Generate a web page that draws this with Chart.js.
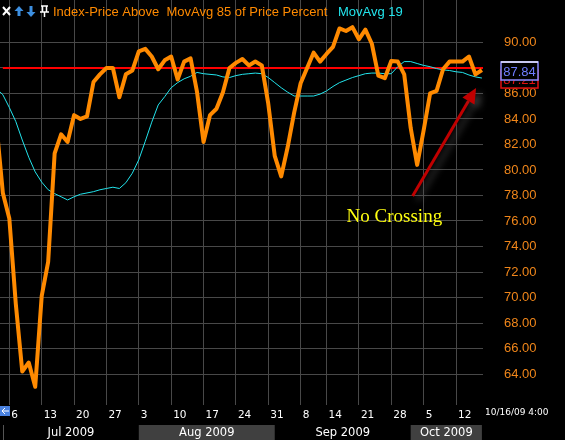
<!DOCTYPE html>
<html>
<head>
<meta charset="utf-8">
<script src="https://cdn.jsdelivr.net/npm/chart.js@4/dist/chart.umd.min.js"></script>
<style>
  html, body { margin: 0; padding: 0; background: #000; }
  canvas { display: block; }
</style>
</head>
<body>
<canvas id="chart" width="565" height="440"></canvas>
<script>
// trading days, Jul 1 - Oct 16 2009
const dates = [
  '7/1', '7/2', '7/6', '7/7', '7/8', '7/9', '7/10', '7/13', '7/14', '7/15', '7/16', '7/17',
  '7/20', '7/21', '7/22', '7/23', '7/24', '7/27', '7/28', '7/29', '7/30', '7/31',
  '8/3', '8/4', '8/5', '8/6', '8/7', '8/10', '8/11', '8/12', '8/13', '8/14', '8/17', '8/18',
  '8/19', '8/20', '8/21', '8/24', '8/25', '8/26', '8/27', '8/28', '8/31',
  '9/1', '9/2', '9/3', '9/4', '9/8', '9/9', '9/10', '9/11', '9/14', '9/15', '9/16', '9/17',
  '9/18', '9/21', '9/22', '9/23', '9/24', '9/25', '9/28', '9/29', '9/30',
  '10/1', '10/2', '10/5', '10/6', '10/7', '10/8', '10/9', '10/12', '10/13', '10/14', '10/15', '10/16'
];

// Index-Price Above MovAvg 85 of Price Percent
const orangeValues = [
  83.6, 78.2, 76.2, 69.5, 64.2, 64.9, 63.0, 70.1, 72.8, 81.3, 82.8, 82.2,
  84.3, 84.0, 84.2, 86.9, 87.5, 88.0, 88.0, 85.7, 87.5, 87.8,
  89.3, 89.5, 88.9, 87.9, 88.6, 88.9, 87.1, 88.5, 88.75, 86.1, 82.2, 84.3,
  84.8, 86.1, 88.0, 88.4, 88.7, 88.2, 88.5, 88.2, 85.2,
  81.1, 79.5, 81.8, 84.5, 86.8, 88.0, 89.2, 88.5, 89.1, 89.65, 91.1, 90.9,
  91.2, 90.25, 91.0, 89.9, 87.4, 87.2, 88.55, 88.5, 87.5,
  83.3, 80.4, 83.1, 86.0, 86.2, 87.9, 88.5, 88.5, 88.5, 88.9, 87.5, 87.84
];

// MovAvg 19
const cyanValues = [
  86.4, 85.9, 84.9, 83.8, 82.35, 81.0, 79.85, 79.05, 78.45, 78.15, 77.9, 77.65,
  77.9, 78.1, 78.2, 78.3, 78.45, 78.55, 78.65, 78.55, 79.0, 79.75,
  80.8, 82.25, 83.75, 85.1, 85.75, 86.45, 86.85, 87.15, 87.35, 87.65, 87.55, 87.5,
  87.45, 87.3, 87.25, 87.4, 87.5, 87.55, 87.6, 87.55, 87.25,
  86.85, 86.45, 86.1, 85.8, 85.8, 85.8, 85.8, 85.95, 86.2, 86.55, 86.85, 87.05,
  87.25, 87.4, 87.55, 87.6, 87.6, 87.55, 87.55, 88.1, 88.5,
  88.5, 88.35, 88.2, 88.1, 87.95, 87.85, 87.8, 87.7, 87.65, 87.45, 87.3, 87.21
];

const redLevel = 88.0;
const yTicks = [64, 66, 68, 70, 72, 74, 76, 78, 80, 82, 84, 86, 88, 90];
const weekStarts = ['7/6', '7/13', '7/20', '7/27', '8/3', '8/10', '8/17', '8/24', '8/31',
  '9/8', '9/14', '9/21', '9/28', '10/5', '10/12'];
const monthNums = [7, 8, 9, 10];
const monthLabels = ['Jul 2009', 'Aug 2009', 'Sep 2009', 'Oct 2009'];

const titleMain = 'Index-Price Above  MovAvg 85 of Price Percent';
const titleAvg = 'MovAvg 19';
const noteText = 'No Crossing';
const stamp = '10/16/09 4:00';
// annotation anchors in data units (day index, value)
const notePos = { x: 52.1, y: 75.95 };
const arrowFrom = { x: 62.3, y: 77.96 };
const arrowTo = { x: 72.1, y: 86.43 };

const base = dates.indexOf('7/6');
const idx = d => dates.indexOf(d) - base;
const weekIdx = weekStarts.map(idx);
const series = vals => vals.map((v, i) => ({ x: i - base, y: v }));

function monthRange(k) {
  const first = dates.findIndex(d => d.startsWith(monthNums[k] + '/'));
  if (k + 1 < monthNums.length) {
    const next = dates.findIndex(d => d.startsWith(monthNums[k + 1] + '/'));
    return [first - base, next - base];
  }
  return [first - base, dates.length - 1 - base];
}

const ORANGE = '#ff8a00';
const CYAN = '#22e4ec';
const GRID = '#484848';

const decor = {
  id: 'decor',
  beforeDraw(chart) {
    const c = chart.ctx;
    c.save();
    c.fillStyle = '#000';
    c.fillRect(0, 0, chart.width, chart.height);
    c.restore();
  },
  afterDraw(chart) {
    const c = chart.ctx;
    const x = chart.scales.x, y = chart.scales.y;
    const area = chart.chartArea;
    c.save();

    // title
    c.font = '13px "Liberation Sans"';
    c.textBaseline = 'middle';
    c.textAlign = 'left';
    c.fillStyle = ORANGE;
    c.fillText(titleMain, 53, 12);
    c.fillStyle = CYAN;
    c.fillText(titleAvg, 338, 12);

    // toolbar icons
    c.strokeStyle = '#fff';
    c.lineWidth = 2;
    c.beginPath();
    c.moveTo(3, 7); c.lineTo(10, 15);
    c.moveTo(10, 7); c.lineTo(3, 15);
    c.stroke();
    c.fillStyle = '#3d8fe0';
    c.beginPath();
    c.moveTo(19, 6); c.lineTo(14.5, 11); c.lineTo(23.5, 11); c.closePath(); c.fill();
    c.fillRect(17.5, 11, 3, 5);
    c.beginPath();
    c.moveTo(31, 17); c.lineTo(26.5, 12); c.lineTo(35.5, 12); c.closePath(); c.fill();
    c.fillRect(29.5, 6, 3, 6);
    c.strokeStyle = '#fff';
    c.lineWidth = 1.5;
    c.beginPath();
    c.moveTo(41, 6); c.lineTo(48, 6);
    c.moveTo(42.5, 6); c.lineTo(42.5, 12); c.moveTo(46.5, 6); c.lineTo(46.5, 12);
    c.moveTo(40, 12); c.lineTo(49, 12);
    c.moveTo(44.5, 12); c.lineTo(44.5, 17);
    c.stroke();

    // arrow with soft shadow
    const ax0 = x.getPixelForValue(arrowFrom.x), ay0 = y.getPixelForValue(arrowFrom.y);
    const ax1 = x.getPixelForValue(arrowTo.x), ay1 = y.getPixelForValue(arrowTo.y);
    const len = Math.hypot(ax1 - ax0, ay1 - ay0);
    const ux = (ax1 - ax0) / len, uy = (ay1 - ay0) / len;
    const hx = ax1 - ux * 15, hy = ay1 - uy * 15;
    c.save();
    c.shadowColor = 'rgba(110,110,110,0.55)';
    c.shadowBlur = 7;
    c.shadowOffsetX = 5;
    c.shadowOffsetY = 4;
    c.strokeStyle = '#c00000';
    c.fillStyle = '#c00000';
    c.lineWidth = 3;
    c.beginPath();
    c.moveTo(ax0, ay0); c.lineTo(hx, hy);
    c.stroke();
    c.beginPath();
    c.moveTo(ax1, ay1);
    c.lineTo(hx - uy * 7, hy + ux * 7);
    c.lineTo(hx + uy * 7, hy - ux * 7);
    c.closePath();
    c.fill();
    c.restore();

    // note
    c.font = '19px "Liberation Serif"';
    c.textBaseline = 'alphabetic';
    c.fillStyle = '#ffff10';
    c.fillText(noteText, x.getPixelForValue(notePos.x), y.getPixelForValue(notePos.y));

    // last value boxes on the right axis
    const box = (value, fg, border, topEdge) => {
      const py = y.getPixelForValue(value) + 1;
      const bx = area.right + 18, bw = 37, bh = 18;
      c.fillStyle = '#000';
      c.fillRect(bx, py - bh / 2, bw, bh);
      c.strokeStyle = border;
      c.lineWidth = 1.5;
      c.strokeRect(bx, py - bh / 2, bw, bh);
      if (topEdge) {
        c.strokeStyle = topEdge;
        c.beginPath(); c.moveTo(bx, py - bh / 2); c.lineTo(bx + bw, py - bh / 2); c.stroke();
      }
      c.font = '13px "Liberation Sans"';
      c.textAlign = 'center';
      c.textBaseline = 'middle';
      c.fillStyle = fg;
      c.fillText(value.toFixed(2), bx + bw / 2, py + 1);
    };
    box(cyanValues[cyanValues.length - 1], '#e01010', '#e01010');
    box(orangeValues[orangeValues.length - 1], '#6f7dff', '#8c8cff', '#e8e8ff');

    // month band
    const bandTop = area.bottom + 27, bandH = chart.height - bandTop;
    c.font = '11.5px "DejaVu Sans"';
    c.textAlign = 'center';
    c.textBaseline = 'middle';
    monthLabels.forEach((label, k) => {
      const [s, e] = monthRange(k);
      const px0 = Math.max(x.getPixelForValue(s), area.left + 3);
      const px1 = x.getPixelForValue(e);
      if (k % 2 === 1) {
        c.fillStyle = '#404040';
        c.fillRect(px0, bandTop, px1 - px0, bandH);
      }
      c.fillStyle = '#fff';
      c.fillText(label, (px0 + px1) / 2, bandTop + bandH / 2 + 1);
    });
    c.strokeStyle = '#555';
    c.lineWidth = 1;
    c.beginPath();
    c.moveTo(area.left + 3.5, bandTop); c.lineTo(area.left + 3.5, chart.height);
    c.stroke();

    // scroll icon and time stamp
    c.fillStyle = '#4a82e0';
    c.fillRect(0, area.bottom + 8, 10, 10);
    c.strokeStyle = '#fff';
    c.lineWidth = 1;
    c.beginPath();
    c.moveTo(9, area.bottom + 13); c.lineTo(2, area.bottom + 13);
    c.moveTo(5, area.bottom + 10); c.lineTo(2, area.bottom + 13); c.lineTo(5, area.bottom + 16);
    c.stroke();
    c.font = '9px "DejaVu Sans"';
    c.textAlign = 'left';
    c.fillStyle = '#fff';
    c.fillText(stamp, area.right + 2, area.bottom + 15);

    c.restore();
  }
};

new Chart(document.getElementById('chart'), {
  type: 'line',
  data: {
    datasets: [
      {
        data: series(orangeValues),
        borderColor: ORANGE,
        borderWidth: 4,
        borderJoinStyle: 'round',
        pointRadius: 0,
        tension: 0
      },
      {
        data: series(cyanValues),
        borderColor: CYAN,
        borderWidth: 1,
        pointRadius: 0,
        tension: 0
      },
      {
        data: [{ x: idx('7/2'), y: redLevel }, { x: idx('10/16') + 1, y: redLevel }],
        borderColor: '#ff0000',
        borderWidth: 2,
        pointRadius: 0
      }
    ]
  },
  options: {
    responsive: false,
    animation: false,
    layout: { padding: 0 },
    plugins: { legend: { display: false }, tooltip: { enabled: false } },
    scales: {
      x: {
        type: 'linear',
        position: 'bottom',
        min: -1.44,
        max: 73.17,
        afterBuildTicks: s => { s.ticks = weekIdx.map(v => ({ value: v })); },
        afterFit: s => { s.height = 42; s.paddingLeft = 0; s.paddingRight = 0; },
        grid: { color: GRID, lineWidth: 1, drawTicks: true, tickLength: 7 },
        border: { display: false },
        ticks: {
          autoSkip: false,
          maxRotation: 0,
          align: 'start',
          labelOffset: 2,
          padding: 4,
          color: '#fff',
          font: { family: 'DejaVu Sans', size: 10.5 },
          callback: (v, i) => weekStarts[i].split('/')[1]
        }
      },
      y: {
        position: 'right',
        min: 62.12,
        max: 93.33,
        afterBuildTicks: s => { s.ticks = yTicks.map(v => ({ value: v })); },
        afterFit: s => { s.width = 82; s.paddingTop = 0; s.paddingBottom = 0; },
        grid: { color: GRID, lineWidth: 1, drawTicks: false },
        border: { display: false },
        ticks: {
          padding: 21,
          color: '#f0861a',
          font: { family: 'Liberation Sans', size: 13 },
          callback: v => v.toFixed(2)
        }
      }
    }
  },
  plugins: [decor]
});
</script>
</body>
</html>
